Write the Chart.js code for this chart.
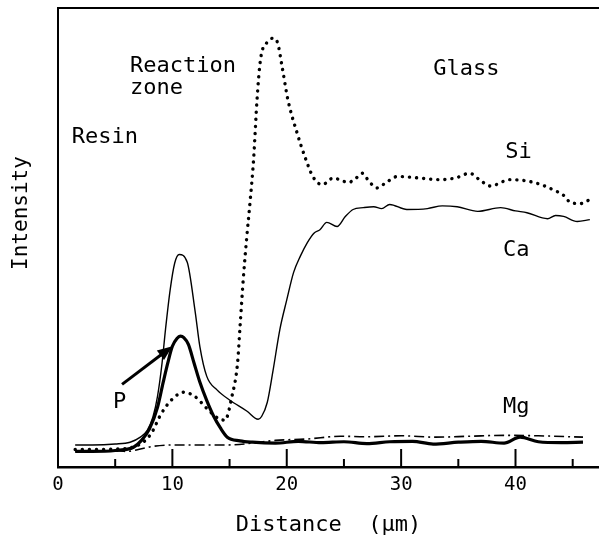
<!DOCTYPE html>
<html>
<head>
<meta charset="utf-8">
<script src="https://cdn.jsdelivr.net/npm/chart.js@4"></script>
<style>
  body { margin: 0; background: #fff; }
  canvas { display: block; }
</style>
</head>
<body>
<canvas id="profile" width="599" height="539"></canvas>
<script>
// line profile across resin / reaction zone / glass (intensity in arbitrary units)
const siDist = [1.5, 3, 5, 6.5, 7.5, 8.2, 9, 10, 11, 12, 13, 14, 14.6, 15.2, 15.7, 15.9, 16.2, 16.5, 16.8, 17.1, 17.4, 17.7, 18.3, 18.8, 19.2, 19.6, 20.1, 20.9, 21.6, 22.3, 23.1, 24.1, 24.6, 25.4, 26.0, 26.6, 27.2, 27.9, 28.7, 29.7, 31.4, 33.4, 34.8, 36.0, 36.9, 37.8, 39.5, 41.6, 43.3, 44.3, 44.8, 45.7, 46.3, 46.8];
const siVal  = [3.8, 3.8, 3.9, 4.3, 5.5, 7.5, 11.5, 14.8, 16.3, 15.3, 12.8, 10.6, 10.2, 15.3, 22.7, 30, 41, 50, 58, 67, 80, 88.7, 92.6, 93.4, 92.4, 87.1, 80, 72.8, 67.5, 63.2, 61.5, 63, 62.6, 62, 62.8, 64, 62.2, 60.8, 62, 63.3, 63, 62.6, 63, 64, 62.5, 61.2, 62.6, 62, 60.4, 59, 57.6, 57.4, 58, 58.9];

const caDist = [1.5, 3, 5, 6.3, 7.2, 7.8, 8.3, 8.7, 9.1, 9.4, 9.8, 10.2, 10.6, 11.3, 12.0, 12.4, 13.0, 13.9, 15.0, 16.5, 17.5, 17.8, 18.3, 18.8, 19.4, 20.0, 20.6, 21.2, 21.8, 22.4, 22.9, 23.5, 24.4, 25.1, 25.8, 26.7, 27.6, 28.3, 29.0, 30.5, 32.3, 33.6, 34.9, 36.7, 38.7, 40, 41.0, 42.8, 43.5, 44.2, 45.4, 46.5];
const caVal  = [4.8, 4.8, 5.0, 5.4, 6.5, 8, 10.9, 15.4, 22.7, 30, 38.5, 44.4, 46.3, 44.6, 33.7, 26.3, 19.8, 16.8, 14.6, 12.2, 10.4, 11, 14.1, 21, 30, 36.4, 42.4, 46, 48.9, 51, 51.7, 53.3, 52.4, 54.5, 56.1, 56.5, 56.7, 56.3, 57.2, 56.1, 56.3, 56.9, 56.7, 55.7, 56.5, 55.8, 55.4, 54.1, 54.8, 54.6, 53.5, 53.9];

const pDist = [1.5, 3, 5, 6.6, 7.3, 8.0, 8.7, 9.2, 9.6, 10.0, 10.4, 10.7, 11.0, 11.4, 11.9, 12.4, 13.0, 13.6, 14.2, 14.8, 15.9, 17, 19, 21, 23, 25, 27, 29, 31, 32.8, 35, 37, 39, 40.4, 42, 44, 45.9];
const pVal  = [3.4, 3.4, 3.6, 4.3, 5.8, 8.3, 13, 18.5, 22.7, 26.3, 28, 28.5, 28.2, 26.7, 22.6, 18.5, 14.5, 11.1, 8.5, 6.5, 5.7, 5.4, 5.2, 5.6, 5.3, 5.5, 5.1, 5.5, 5.6, 5.0, 5.4, 5.6, 5.2, 6.5, 5.5, 5.3, 5.4];

const mgDist = [1.5, 3, 5, 6.0, 7.5, 8.3, 10, 12, 14.8, 17, 19, 21.8, 24.7, 27, 30, 33, 36, 39, 42, 45.9];
const mgVal  = [3.5, 3.5, 3.6, 3.4, 4.1, 4.5, 4.8, 4.8, 4.8, 5.2, 5.8, 6.1, 6.7, 6.6, 6.8, 6.5, 6.7, 6.9, 6.8, 6.5];

const xTickStep = 5;
const xMax = 47.3;

function toPoints(xs, ys) {
    return xs.map(function(x, i) { return { x: x, y: ys[i] }; });
}

const monoFont = '"DejaVu Sans Mono", "Liberation Mono", monospace';

// labels written on the plot, in data units (left edge, vertical middle)
const notes = [
    { text: 'Reaction', x: 6.3, y: 87.4 },
    { text: 'zone', x: 6.3, y: 82.6 },
    { text: 'Resin', x: 1.2, y: 71.9 },
    { text: 'Glass', x: 32.8, y: 86.7 },
    { text: 'Si', x: 39.1, y: 68.6 },
    { text: 'Ca', x: 38.9, y: 47.3 },
    { text: 'Mg', x: 38.9, y: 13.1 },
    { text: 'P', x: 4.8, y: 14.2 }
];

const decorPlugin = {
    id: 'decor',
    afterDatasetsDraw(chart) {
        const ctx = chart.ctx;
        const area = chart.chartArea;
        const xs = chart.scales.x;
        const ys = chart.scales.y;
        ctx.save();
        ctx.strokeStyle = '#000';
        ctx.fillStyle = '#000';

        // frame: left and top sides
        ctx.lineWidth = 2;
        ctx.beginPath();
        ctx.moveTo(area.left, area.bottom);
        ctx.lineTo(area.left, area.top);
        ctx.lineTo(area.right, area.top);
        ctx.stroke();

        // inward tick marks
        for (let v = xTickStep; v < xMax; v += xTickStep) {
            const px = xs.getPixelForValue(v);
            const len = (v % 10 === 0) ? 18 : 8;
            ctx.lineWidth = 2;
            ctx.beginPath();
            ctx.moveTo(px, area.bottom);
            ctx.lineTo(px, area.bottom - len);
            ctx.stroke();
        }

        // arrow to the P peak
        const x0 = xs.getPixelForValue(5.6), y0 = ys.getPixelForValue(18);
        const x1 = xs.getPixelForValue(10.0), y1 = ys.getPixelForValue(26.3);
        const ang = Math.atan2(y1 - y0, x1 - x0);
        ctx.lineWidth = 3;
        ctx.beginPath();
        ctx.moveTo(x0, y0);
        ctx.lineTo(x1 - 10 * Math.cos(ang), y1 - 10 * Math.sin(ang));
        ctx.stroke();
        ctx.beginPath();
        ctx.moveTo(x1, y1);
        ctx.lineTo(x1 - 15 * Math.cos(ang) + 6 * Math.sin(ang), y1 - 15 * Math.sin(ang) - 6 * Math.cos(ang));
        ctx.lineTo(x1 - 15 * Math.cos(ang) - 6 * Math.sin(ang), y1 - 15 * Math.sin(ang) + 6 * Math.cos(ang));
        ctx.closePath();
        ctx.fill();

        // text on the plot
        ctx.font = '22px ' + monoFont;
        ctx.textAlign = 'left';
        ctx.textBaseline = 'middle';
        notes.forEach(function(n) {
            ctx.fillText(n.text, xs.getPixelForValue(n.x), ys.getPixelForValue(n.y));
        });

        // y axis title
        ctx.font = '21px ' + monoFont;
        ctx.textAlign = 'center';
        ctx.translate(22, 213);
        ctx.rotate(-Math.PI / 2);
        ctx.fillText('Intensity', 0, 0);
        ctx.restore();
    }
};

const lineBase = {
    borderColor: '#000',
    pointRadius: 0,
    fill: false,
    cubicInterpolationMode: 'monotone'
};

new Chart(document.getElementById('profile').getContext('2d'), {
    type: 'line',
    data: {
        datasets: [
            Object.assign({}, lineBase, {
                label: 'Si',
                data: toPoints(siDist, siVal),
                borderWidth: 3.4,
                borderDash: [0.1, 7],
                borderCapStyle: 'round'
            }),
            Object.assign({}, lineBase, {
                label: 'Ca',
                data: toPoints(caDist, caVal),
                borderWidth: 1.4
            }),
            Object.assign({}, lineBase, {
                label: 'P',
                data: toPoints(pDist, pVal),
                borderWidth: 3.2
            }),
            Object.assign({}, lineBase, {
                label: 'Mg',
                data: toPoints(mgDist, mgVal),
                borderWidth: 1.6,
                borderDash: [10, 4, 2, 4]
            })
        ]
    },
    options: {
        responsive: false,
        animation: false,
        layout: { padding: { left: 58, top: 8, right: 0, bottom: 0 } },
        plugins: {
            legend: { display: false },
            tooltip: { enabled: false }
        },
        scales: {
            x: {
                type: 'linear',
                min: 0,
                max: xMax,
                afterFit: function(scale) {
                    scale.height = 72;
                    scale.paddingRight = 0;
                },
                grid: { display: false, drawTicks: false },
                border: { display: true, color: '#000', width: 2.5 },
                ticks: {
                    stepSize: xTickStep,
                    autoSkip: false,
                    maxRotation: 0,
                    padding: 7,
                    color: '#000',
                    font: { family: monoFont, size: 19 },
                    callback: function(v) { return (v % 10 === 0) ? v : ''; }
                },
                title: {
                    display: true,
                    text: 'Distance  (\u03bcm)',
                    color: '#000',
                    font: { family: monoFont, size: 22 },
                    padding: { top: 0, bottom: 1 }
                }
            },
            y: {
                display: false,
                min: 0,
                max: 100
            }
        }
    },
    plugins: [decorPlugin]
});
</script>
</body>
</html>
